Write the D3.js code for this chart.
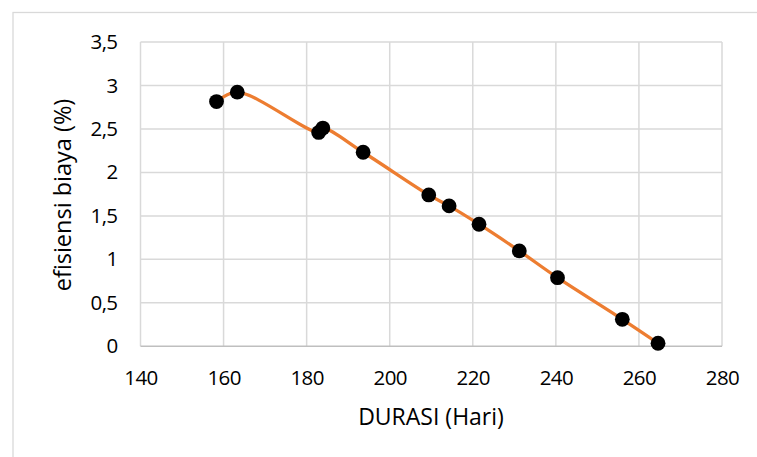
<!DOCTYPE html>
<html>
<head>
<meta charset="utf-8">
<script src="https://cdn.jsdelivr.net/npm/d3@7"></script>
<style>
  html, body { margin: 0; padding: 0; background: #fff; }
  svg { display: block; }
  text { font-family: "Open Sans", "Noto Sans", sans-serif; fill: #000; }
</style>
</head>
<body>
<svg id="chart" width="757" height="457"></svg>
<script>
// Duration (days) vs. cost efficiency (%)
const durasi = [158.3, 163.3, 182.9, 183.9, 193.6, 209.4, 214.3, 221.5, 231.2, 240.4, 256.0, 264.6];
const efisiensi = [2.815, 2.923, 2.46, 2.51, 2.232, 1.741, 1.615, 1.404, 1.097, 0.789, 0.31, 0.035];
const xTicks = [140, 160, 180, 200, 220, 240, 260, 280];
const yTicks = [0, 0.5, 1, 1.5, 2, 2.5, 3, 3.5];
const xTitle = "DURASI (Hari)";
const yTitle = "efisiensi biaya (%)";

const W = 757, H = 457;
const svg = d3.select("#chart");

// chart frame
svg.append("rect")
  .attr("x", 13).attr("y", 12.5)
  .attr("width", W + 10).attr("height", H + 10)
  .attr("fill", "#fff").attr("stroke", "#d9d9d9").attr("stroke-width", 1.3);

const x = d3.scaleLinear().domain([140, 280]).range([140.5, 722]);
const y = d3.scaleLinear().domain([0, 3.5]).range([346.3, 42]);

const fmt = d => String(d).replace(".", ",");

// gridlines
const grid = svg.append("g");
grid.selectAll("line.v").data(xTicks).join("line")
  .attr("class", "v")
  .attr("x1", d => x(d)).attr("x2", d => x(d))
  .attr("y1", y(3.5)).attr("y2", y(0))
  .attr("stroke", "#d9d9d9").attr("stroke-width", 1.5);
grid.selectAll("line.h").data(yTicks).join("line")
  .attr("class", "h")
  .attr("x1", x(140)).attr("x2", x(280))
  .attr("y1", d => y(d)).attr("y2", d => y(d))
  .attr("stroke", d => d === 0 ? "#bfbfbf" : "#d9d9d9").attr("stroke-width", 1.5);

// axes (labels only, lines come from the grid)
const xAxis = svg.append("g")
  .attr("transform", `translate(0,${y(0)})`)
  .call(d3.axisBottom(x).tickValues(xTicks).tickFormat(fmt).tickSize(0).tickPadding(24));
xAxis.select(".domain").remove();
xAxis.attr("font-size", null).attr("font-family", null);
xAxis.selectAll("text").style("font-size", "20.5px").style("letter-spacing", "-0.6px");

const yAxis = svg.append("g")
  .attr("transform", `translate(${x(140)},0)`)
  .call(d3.axisLeft(y).tickValues(yTicks).tickFormat(fmt).tickSize(0).tickPadding(23));
yAxis.select(".domain").remove();
yAxis.attr("font-size", null).attr("font-family", null);
yAxis.selectAll("text").style("font-size", "20.5px").style("letter-spacing", "-0.6px");

// axis titles
svg.append("text")
  .attr("x", 431).attr("y", 425)
  .attr("text-anchor", "middle")
  .style("font-size", "23px")
  .text(xTitle);
svg.append("text")
  .attr("transform", "translate(71,195) rotate(-90)")
  .attr("text-anchor", "middle")
  .style("font-size", "23.5px")
  .text(yTitle);

// smoothed line
const pts = durasi.map((d, i) => [d, efisiensi[i]]);
const line = d3.line()
  .x(d => x(d[0])).y(d => y(d[1]))
  .curve(d3.curveCatmullRom.alpha(0.5));
svg.append("path")
  .datum(pts)
  .attr("d", line)
  .attr("fill", "none")
  .attr("stroke", "#ed7d31")
  .attr("stroke-width", 3.3)
  .attr("stroke-linecap", "round");

// markers
svg.append("g").selectAll("circle").data(pts).join("circle")
  .attr("cx", d => x(d[0])).attr("cy", d => y(d[1]))
  .attr("r", 7.4)
  .attr("fill", "#000");
</script>
</body>
</html>
